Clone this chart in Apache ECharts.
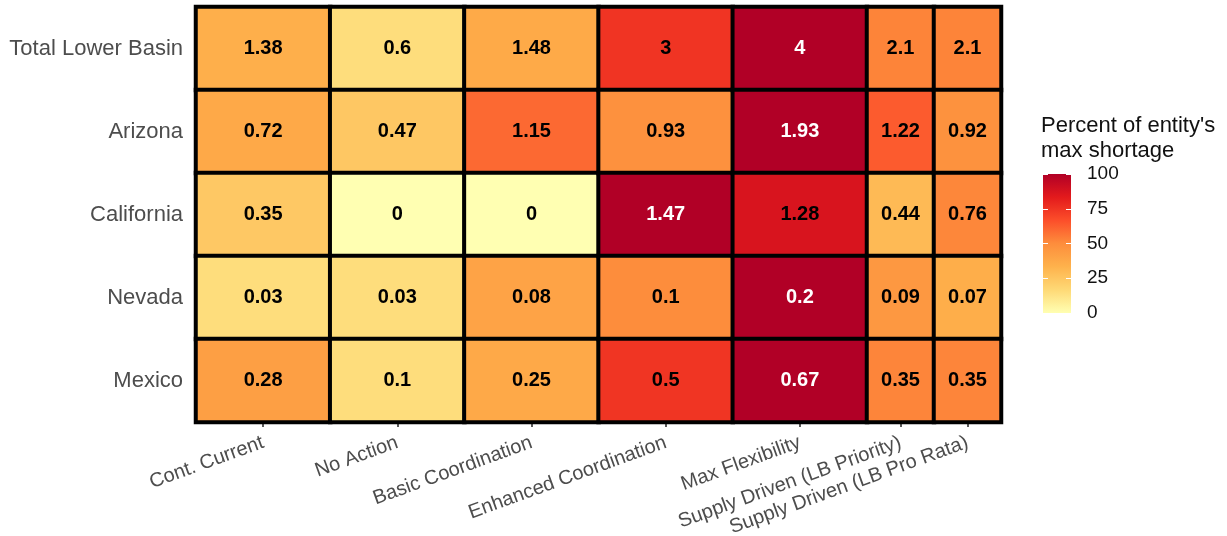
<!DOCTYPE html>
<html>
<head>
<meta charset="utf-8">
<script src="https://cdn.jsdelivr.net/npm/echarts@6/dist/echarts.min.js"></script>
<style>
html,body{margin:0;padding:0;background:#fff;}
#chart{width:1227px;height:536px;}
</style>
</head>
<body>
<div id="chart"></div>
<script>
// ---- data ----
var entities = ['Total Lower Basin', 'Arizona', 'California', 'Nevada', 'Mexico'];
var mainScenarios = ['Cont. Current', 'No Action', 'Basic Coordination', 'Enhanced Coordination', 'Max Flexibility'];
var supplyScenarios = ['Supply Driven (LB Priority)', 'Supply Driven (LB Pro Rata)'];
// values per scenario, in entity order
var contCurrent = [1.38, 0.72, 0.35, 0.03, 0.28];
var noAction = [0.6, 0.47, 0, 0.03, 0.1];
var basicCoordination = [1.48, 1.15, 0, 0.08, 0.25];
var enhancedCoordination = [3, 0.93, 1.47, 0.1, 0.5];
var maxFlexibility = [4, 1.93, 1.28, 0.2, 0.67];
var supplyLBPriority = [2.1, 1.22, 0.44, 0.09, 0.35];
var supplyLBProRata = [2.1, 0.92, 0.76, 0.07, 0.35];
var legendTicks = [0, 25, 50, 75, 100];

var mainValues = [contCurrent, noAction, basicCoordination, enhancedCoordination, maxFlexibility];
var supplyValues = [supplyLBPriority, supplyLBProRata];
var allValues = mainValues.concat(supplyValues);

// entity max shortage = row max across scenarios
var entityMax = entities.map(function (e, r) {
  return Math.max.apply(null, allValues.map(function (col) { return col[r]; }));
});

function buildData(cols) {
  var out = [];
  cols.forEach(function (col, c) {
    col.forEach(function (v, r) {
      var pct = entityMax[r] > 0 ? v / entityMax[r] * 100 : 0;
      out.push({
        value: [c, r, v, pct],
        label: { color: pct >= 99.9 ? '#ffffff' : '#000000' }
      });
    });
  });
  return out;
}

var FONT = "'Liberation Sans', Arial, sans-serif";
var palette = ['#ffffb2', '#fed976', '#feb24c', '#fd8d3c', '#fc4e2a', '#e31a1c', '#b10026'];

var cellStyle = { borderColor: '#000', borderWidth: 4 };
var cellLabel = {
  show: true,
  fontFamily: FONT,
  fontWeight: 'bold',
  fontSize: 20,
  formatter: function (p) { return String(p.value[2]); }
};

function xAxisFor(gridIndex, cats) {
  return {
    type: 'category', gridIndex: gridIndex, data: cats,
    axisLine: { show: false },
    axisTick: { show: true, alignWithLabel: true, length: 5, lineStyle: { color: '#222', width: 1.5 } },
    axisLabel: { interval: 0, rotate: 20, margin: 20, fontFamily: FONT, fontSize: 20, color: '#4D4D4D', hideOverlap: false },
    splitLine: { show: false }, splitArea: { show: false }
  };
}

var gradientStops = palette.map(function (c, i) {
  return { offset: i / (palette.length - 1), color: c };
});

var chart = echarts.init(document.getElementById('chart'), null, { renderer: 'canvas' });
chart.setOption({
  backgroundColor: '#ffffff',
  animation: false,
  title: {
    text: "Percent of entity's\nmax shortage",
    left: 1041, top: 113,
    padding: 0,
    textStyle: { fontFamily: FONT, fontSize: 22, fontWeight: 'normal', color: '#111', lineHeight: 25 }
  },
  grid: [
    { left: 196, top: 7, width: 671, height: 415, outerBoundsMode: 'none', containLabel: false },
    { left: 867, top: 7, width: 134, height: 415, outerBoundsMode: 'none', containLabel: false },
    { left: 1043, top: 174, width: 28, height: 139, outerBoundsMode: 'none', containLabel: false }
  ],
  xAxis: [
    xAxisFor(0, mainScenarios),
    xAxisFor(1, supplyScenarios),
    { type: 'category', gridIndex: 2, show: false, data: [''] }
  ],
  yAxis: [
    {
      type: 'category', gridIndex: 0, data: entities, inverse: true,
      axisLine: { show: false }, axisTick: { show: false },
      axisLabel: { margin: 13, fontFamily: FONT, fontSize: 22, color: '#4D4D4D' },
      splitLine: { show: false }, splitArea: { show: false }
    },
    {
      type: 'category', gridIndex: 1, data: entities, inverse: true,
      axisLine: { show: false }, axisTick: { show: false }, axisLabel: { show: false },
      splitLine: { show: false }, splitArea: { show: false }
    },
    {
      type: 'value', gridIndex: 2, position: 'right', min: 0, max: 100, interval: 25,
      axisLine: { show: false },
      axisTick: { show: true, inside: true, length: 5, lineStyle: { color: '#ffffff', width: 1 } },
      axisLabel: {
        margin: 16, fontFamily: FONT, fontSize: 19, color: '#111',
        formatter: function (v) { return legendTicks.indexOf(v) >= 0 ? String(v) : ''; }
      },
      splitLine: { show: false }, z: 10
    },
    {
      type: 'value', gridIndex: 2, position: 'left', min: 0, max: 100, interval: 25,
      axisLine: { show: false },
      axisTick: { show: true, inside: true, length: 5, lineStyle: { color: '#ffffff', width: 1 } },
      axisLabel: { show: false },
      splitLine: { show: false }, z: 10
    }
  ],
  visualMap: {
    type: 'continuous',
    show: false,
    min: 0, max: 100,
    dimension: 3,
    seriesIndex: [0, 1],
    inRange: { color: palette }
  },
  series: [
    {
      type: 'heatmap', xAxisIndex: 0, yAxisIndex: 0,
      data: buildData(mainValues),
      itemStyle: cellStyle, label: cellLabel,
      emphasis: { disabled: true }
    },
    {
      type: 'heatmap', xAxisIndex: 1, yAxisIndex: 1,
      data: buildData(supplyValues),
      itemStyle: cellStyle, label: cellLabel,
      emphasis: { disabled: true }
    },
    {
      // colour bar of the legend, drawn on its own 0–100 scale
      type: 'bar', xAxisIndex: 2, yAxisIndex: 2,
      data: [legendTicks[legendTicks.length - 1]],
      barWidth: '100%', silent: true,
      itemStyle: {
        color: new echarts.graphic.LinearGradient(0, 1, 0, 0, gradientStops)
      },
      emphasis: { disabled: true }
    }
  ]
});
</script>
</body>
</html>
